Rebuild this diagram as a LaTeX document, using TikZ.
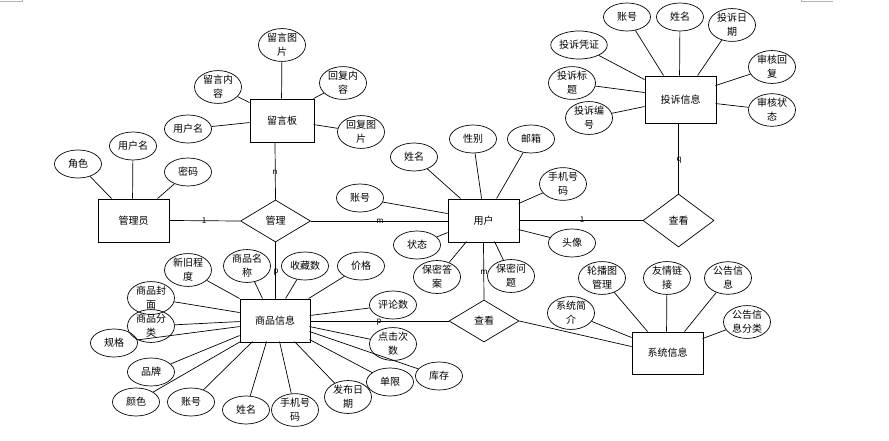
\documentclass[tikz,border=0pt]{standalone}
\usepackage{fontspec}
\setmainfont{Noto Sans CJK SC}
\usetikzlibrary{shapes.geometric}
\begin{document}
\begin{tikzpicture}[x=1pt,y=-1pt,
  attr/.style={ellipse, draw, line width=0.7pt, minimum width=47pt, minimum height=28pt, inner sep=0pt, align=center, font=\fontsize{10}{14}\selectfont},
  ent/.style={rectangle, draw, line width=0.9pt, minimum width=71pt, minimum height=43pt, inner sep=0pt, font=\fontsize{10}{12}\selectfont},
  rel/.style={diamond, draw, line width=0.7pt, minimum width=70pt, minimum height=42pt, inner sep=0pt, font=\fontsize{10}{12}\selectfont},
  conn/.style={line width=0.7pt},
  card/.style={font=\fontsize{8}{8}\selectfont, inner sep=0pt}]
\useasboundingbox (0,0) rectangle (889,441);
% corner marks
\coordinate (m1a) at (0,1); \coordinate (m1b) at (22,1); \coordinate (m1c) at (22,0);
\coordinate (m2a) at (833,1.5); \coordinate (m2b) at (801,1.5); \coordinate (m2c) at (801,0);
\draw[draw=gray!60, line width=0.6pt] (m1a) -- (m1b) -- (m1c);
\draw[draw=gray!60, line width=0.6pt] (m2a) -- (m2b) -- (m2c);

% entities
\node[ent, minimum width=64pt] (lyb) at (282,120.5) {留言板};
\node[ent] (gly) at (133.5,220.5) {管理员};
\node[ent] (yh) at (483.5,220.5) {用户};
\node[ent, minimum height=47pt] (ts) at (680.5,99.5) {投诉信息};
\node[ent, minimum width=70pt] (sp) at (275,320.5) {商品信息};
\node[ent, minimum height=42pt] (xt) at (667.5,353) {系统信息};

% relationships
\node[rel] (gl) at (275.5,221) {管理};
\node[rel, minimum width=71pt, minimum height=53pt] (ck1) at (678.5,220.5) {查看};
\node[rel] (ck2) at (484,321) {查看};

% 留言板 attributes
\node[attr] (lytp) at (282,45) {留言图\\片};
\node[attr] (lynr) at (218,87) {留言内\\容};
\node[attr] (yhm1) at (188,129) {用户名};
\node[attr] (hfnr) at (343,83) {回复内\\容};
\node[attr] (hftp) at (361,132) {回复图\\片};
\draw[conn] (lytp) -- ([shift={(32,0)}]lyb.north west);
\draw[conn] (lynr) -- ([shift={(0,4)}]lyb.north west);
\draw[conn] (yhm1) -- ([shift={(0,24)}]lyb.north west);
\draw[conn] (hfnr) -- ([shift={(64,0)}]lyb.north west);
\draw[conn] (hftp) -- ([shift={(64,26)}]lyb.north west);

% 管理员 attributes
\node[attr] (js) at (78,164) {角色};
\node[attr] (yhm2) at (133,146) {用户名};
\node[attr] (mm) at (188,172) {密码};
\draw[conn] (js) -- ([shift={(14,0)}]gly.north west);
\draw[conn] (yhm2) -- ([shift={(35,0)}]gly.north west);
\draw[conn] (mm) -- ([shift={(60,0)}]gly.north west);

% 用户 attributes
\node[attr] (xm1) at (414,157) {姓名};
\node[attr] (xb) at (473,139) {性别};
\node[attr] (yx) at (531,139) {邮箱};
\node[attr] (sj1) at (563,184) {手机号\\码};
\node[attr] (zh1) at (360,198) {账号};
\node[attr] (zt) at (417,245) {状态};
\node[attr] (mmda) at (437,277) {保密答\\案};
\node[attr] (mmwt) at (511,276) {保密问\\题};
\node[attr] (tx) at (572,243) {头像};
\draw[conn] (xm1) -- ([shift={(13,0)}]yh.north west);
\draw[conn] (xb) -- ([shift={(34,0)}]yh.north west);
\draw[conn] (yx) -- ([shift={(49,0)}]yh.north west);
\draw[conn] (sj1) -- ([shift={(71,5)}]yh.north west);
\draw[conn] (zh1) -- ([shift={(0,15)}]yh.north west);
\draw[conn] (zt) -- ([shift={(0,34)}]yh.north west);
\draw[conn] (mmda) -- ([shift={(19,43)}]yh.north west);
\draw[conn] (mmwt) -- ([shift={(47,43)}]yh.north west);
\draw[conn] (tx) -- ([shift={(71,31)}]yh.north west);

% 投诉信息 attributes
\node[attr] (zh2) at (627,17) {账号};
\node[attr] (xm2) at (680,17) {姓名};
\node[attr] (tsrq) at (732,25) {投诉日\\期};
\node[attr] (tspz) at (579,45) {投诉凭证};
\node[attr] (tsbt) at (572,83) {投诉标\\题};
\node[attr] (tsbh) at (589,118) {投诉编\\号};
\node[attr] (shhf) at (772,67) {审核回\\复};
\node[attr] (shzt) at (772,110) {审核状\\态};
\draw[conn] (zh2) -- ([shift={(19,0)}]ts.north west);
\draw[conn] (xm2) -- ([shift={(35,0)}]ts.north west);
\draw[conn] (tsrq) -- ([shift={(53,0)}]ts.north west);
\draw[conn] (tspz) -- ([shift={(0,4)}]ts.north west);
\draw[conn] (tsbt) -- ([shift={(0,17)}]ts.north west);
\draw[conn] (tsbh) -- ([shift={(0,31)}]ts.north west);
\draw[conn] (shhf) -- ([shift={(71,10)}]ts.north west);
\draw[conn] (shzt) -- ([shift={(71,28)}]ts.north west);

% 商品信息 attributes
\node[attr] (xjcd) at (188,270) {新旧程\\度};
\node[attr] (spmc) at (247,266) {商品名\\称};
\node[attr] (scs) at (305,266) {收藏数};
\node[attr] (jg) at (361,266) {价格};
\node[attr] (pls) at (393,305) {评论数};
\node[attr] (djcs) at (393,344) {点击次\\数};
\node[attr] (kc) at (439,376) {库存};
\node[attr] (dx) at (390,382) {单限};
\node[attr] (fbrq) at (348,397) {发布日\\期};
\node[attr] (sj2) at (295,410) {手机号\\码};
\node[attr] (xm3) at (246,410) {姓名};
\node[attr] (zh3) at (191,402) {账号};
\node[attr] (ys) at (136,402) {颜色};
\node[attr] (pp) at (151,372) {品牌};
\node[attr] (gg) at (114,343) {规格};
\node[attr] (spfl) at (151,326) {商品分\\类};
\node[attr] (spfm) at (151,298) {商品封\\面};
\draw[conn] (xjcd) -- ([shift={(0,0)}]sp.north west);
\draw[conn] (spmc) -- ([shift={(23,0)}]sp.north west);
\draw[conn] (scs) -- ([shift={(46,0)}]sp.north west);
\draw[conn] (jg) -- ([shift={(69,0)}]sp.north west);
\draw[conn] (pls) -- ([shift={(70,17)}]sp.north west);
\draw[conn] (djcs) -- ([shift={(70,28)}]sp.north west);
\draw[conn] (kc) -- ([shift={(70,33)}]sp.north west);
\draw[conn] (dx) -- ([shift={(70,41)}]sp.north west);
\draw[conn] (fbrq) -- ([shift={(55,43)}]sp.north west);
\draw[conn] (sj2) -- ([shift={(40,43)}]sp.north west);
\draw[conn] (xm3) -- ([shift={(27,43)}]sp.north west);
\draw[conn] (zh3) -- ([shift={(13,43)}]sp.north west);
\draw[conn] (ys) -- ([shift={(1,43)}]sp.north west);
\draw[conn] (pp) -- ([shift={(0,37)}]sp.north west);
\draw[conn] (gg) -- ([shift={(0,28)}]sp.north west);
\draw[conn] (spfl) -- ([shift={(0,23)}]sp.north west);
\draw[conn] (spfm) -- ([shift={(0,14)}]sp.north west);

% 系统信息 attributes
\node[attr] (xtjj) at (571,313) {系统简\\介};
\node[attr] (lbt) at (602,278) {轮播图\\管理};
\node[attr] (yqlj) at (667,278) {友情链\\接};
\node[attr] (ggxx) at (728,278) {公告信\\息};
\node[attr] (ggfl) at (747,322) {公告信\\息分类};
\draw[conn] (xtjj) -- ([shift={(0,6)}]xt.north west);
\draw[conn] (lbt) -- ([shift={(16,0)}]xt.north west);
\draw[conn] (yqlj) -- ([shift={(35,0)}]xt.north west);
\draw[conn] (ggxx) -- ([shift={(53,0)}]xt.north west);
\draw[conn] (ggfl) -- ([shift={(71,7)}]xt.north west);

% relationship connectors
\draw[conn] ([xshift=-7pt]lyb.south) -- (gl.north);
\draw[conn] (gly.east) -- (gl.west);
\draw[conn] (gl.east) -- (gl.east -| yh.west);
\draw[conn] (gl.south) -- (gl.south |- sp.north);
\draw[conn] (yh.east) -- (yh.east -| ck1.west);
\draw[conn] (ck1.north) -- (ck1.north |- ts.south);
\draw[conn] (yh.south) -- (ck2.north);
\draw[conn] (sp.east |- ck2.west) -- (ck2.west);
\draw[conn] (ck2.east) -- ([shift={(0,15)}]xt.north west);

% cardinalities
\node[card] (cn) at (275,172) {n};
\node[card] (c1a) at (204,221) {1};
\node[card] (cm1) at (380,221) {m};
\node[card] (c1b) at (582,220) {1};
\node[card] (cq) at (679,160) {q};
\node[card] (cp1) at (276,272) {p};
\node[card] (cm2) at (484,272) {m};
\node[card] (cp2) at (379,322) {p};
\end{tikzpicture}
\end{document}
